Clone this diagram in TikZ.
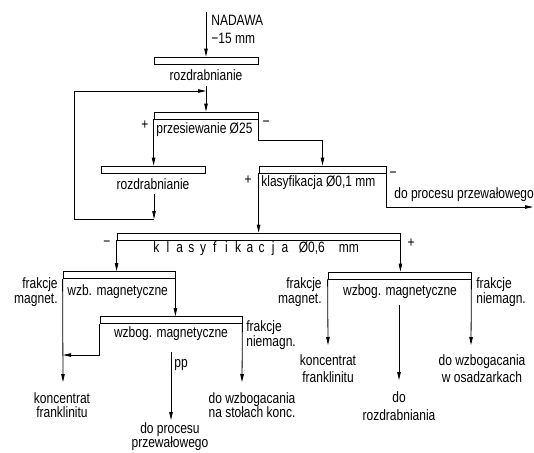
\documentclass[tikz,border=0pt]{standalone}
\usepackage{fontspec}
\setmainfont{Liberation Sans}[FakeStretch=0.8]
\usetikzlibrary{arrows.meta}
% letter-spaced glyph for the wide label
\newcommand\lsp[1]{\makebox[11.7pt][c]{#1}}
\begin{document}
\begin{tikzpicture}[x=1pt,y=-1pt,
  line width=0.8pt,
  bar/.style={draw, inner sep=0pt, minimum height=7pt},
  arr/.style={-{Triangle[length=8pt,width=3.5pt]}},
  txt/.style={inner sep=0pt, font=\fontsize{15}{15}\selectfont},
  pair/.style={txt, align=center, font=\fontsize{15}{#1}\selectfont},
  pairl/.style={txt, align=left, font=\fontsize{15}{#1}\selectfont},
  pairr/.style={txt, align=right, font=\fontsize{15}{#1}\selectfont},
]
\useasboundingbox (0,0) rectangle (534,452);

% process bars
\node[bar, minimum width=104pt] (b1) at (206,60.5) {};
\node[bar, minimum width=104pt] (b2) at (206,115.5) {};
\node[bar, minimum width=104pt] (b3) at (153,169.5) {};
\node[bar, minimum width=127pt] (b4) at (322.5,169.5) {};
\node[bar, minimum width=283pt] (b5) at (258.5,236.5) {};
\node[bar, minimum width=112pt] (b6) at (119,275) {};
\node[bar, minimum width=142pt] (b7) at (171,320) {};
\node[bar, minimum width=143pt] (b8) at (399.5,275.5) {};

% feed
\coordinate (feed) at (206,12);
\node[txt, anchor=west] (nadawa) at (211,20) {NADAWA};
\node[txt, anchor=west] (frac) at (211,38) {−15 mm};
\draw[arr] (feed) -- (b1.north);

% crushing 1
\node[txt] (l1) at (206,75) {rozdrabnianie};
\coordinate (c1out) at (206,86);
\coordinate (merge) at (206,91);
\draw[arr] (c1out) -- (b2.north);

% screening 25
\node[txt, anchor=west] (l2) at (156,130) {przesiewanie Ø25};
\node[txt] (p2) at (145,125) {+};
\node[txt] (m2) at (266,124) {−};
\draw[arr] (b2.south west) -- (b2.south west |- b3.north);
\draw[arr] (b2.south east) -- ++(0,21) -| (b4.north);

% crushing 2 and recycle loop
\node[txt] (l3) at (153,184) {rozdrabnianie};
\coordinate (c3out) at (154,194);
\coordinate (loop) at (154,219);
\coordinate (loopl) at (74,219);
\draw[arr] (c3out) -- (loop);
\draw[arr] (loop) -- (loopl) |- (merge);

% classification 0,1
\node[txt, anchor=west] (l4) at (261,183) {klasyfikacja Ø0,1 mm};
\node[txt] (p4) at (248,180) {+};
\node[txt] (m4) at (393,175) {−};
\node[txt, anchor=west] (o4) at (394,195) {do procesu przewałowego};
\coordinate (out4) at (533,207);
\draw[arr] (b4.south west) -- (b4.south west |- b5.north);
\draw[arr] (b4.south east) |- (out4);

% classification 0,6
\node[txt, anchor=west] (l5) at (150,249)
  {\lsp k\lsp l\lsp a\lsp s\lsp y\lsp f\lsp i\lsp k\lsp a\lsp c\lsp j\lsp a\hspace{8pt}Ø0,6\hspace{14pt}mm};
\node[txt] (m5) at (107,244) {−};
\node[txt] (p5) at (411,243) {+};
\draw[arr] (b5.south west) -- (b5.south west |- b6.north);
\draw[arr] (b5.south east) -- (b5.south east |- b8.north);

% magnetic separation, left branch
\node[txt, anchor=west] (l6) at (67,292) {wzb. magnetyczne};
\node[pairr=15, anchor=east] (f6) at (58,292.5) {frakcje\\magnet.};
\node[pair=14] (k6) at (62,405) {koncentrat\\franklinitu};
\coordinate (k6top) at (63,382);
\draw[arr] (b6.south west) -- (k6top);
\draw[arr] (b6.south east) -- (b6.south east |- b7.north);

% magnetic cleaning
\node[txt] (l7) at (171,334) {wzbog. magnetyczne};
\node[pairl=15, anchor=west] (f7) at (246,335.5) {frakcje\\niemagn.};
\node[txt, anchor=west] (pp) at (174,365) {pp};
\node[pair=14] (o7) at (170,437) {do procesu\\przewałowego};
\node[pair=14] (w7) at (252,405) {do wzbogacania\\na stołach konc.};
\coordinate (j7) at (63,355);
\coordinate (pptop) at (171,352);
\coordinate (ppend) at (171,420);
\coordinate (w7top) at (242,382);
\draw[arr] (b7.south west) |- (j7);
\draw[arr] (pptop) -- (ppend);
\draw[arr] (b7.south east) -- (w7top);

% magnetic separation, right branch
\node[txt] (l8) at (400,292) {wzbog. magnetyczne};
\node[pairr=15, anchor=east] (f8a) at (322,292.5) {frakcje\\magnet.};
\node[pairl=15, anchor=west] (f8b) at (476,292.5) {frakcje\\niemagn.};
\node[pair=17] (k8) at (328,368.5) {koncentrat\\franklinitu};
\node[pair=18] (r8) at (399,406) {do\\rozdrabniania};
\node[pair=17] (w8) at (482,368.5) {do wzbogacania\\w osadzarkach};
\coordinate (k8top) at (328,345);
\coordinate (r8a) at (399,305);
\coordinate (r8b) at (399,380);
\coordinate (w8top) at (471,345);
\draw[arr] (b8.south west) -- (k8top);
\draw[arr] (r8a) -- (r8b);
\draw[arr] (b8.south east) -- (w8top);
\end{tikzpicture}
\end{document}
